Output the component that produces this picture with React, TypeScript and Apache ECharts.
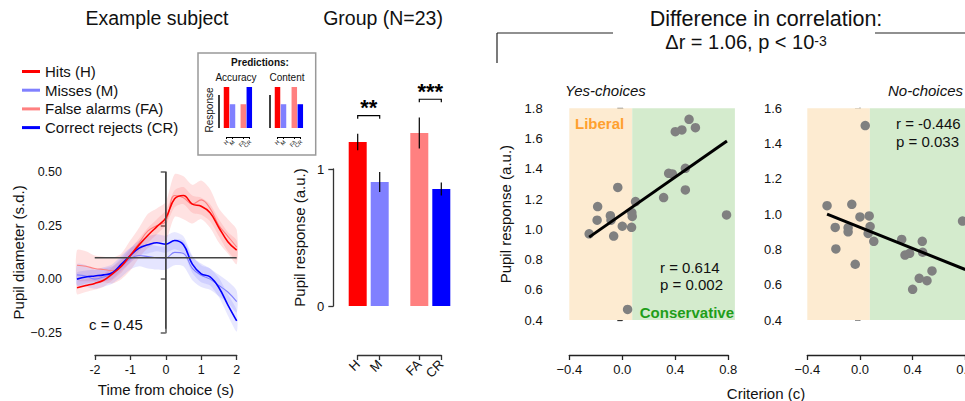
import React, { useEffect, useRef } from 'react';
import * as echarts from 'echarts';

const FONT = '"Liberation Sans", Arial, Helvetica, sans-serif';

// ---------- Example subject: pupil time course ----------
const tcTime = [-2.5, -2.25, -2, -1.75, -1.5, -1.25, -1, -0.75, -0.5, -0.25, 0, 0.25, 0.5, 0.75, 1, 1.25, 1.5, 1.75, 2];
const hitsMean = [-0.04, -0.03, -0.02, -0.005, 0.025, 0.06, 0.11, 0.16, 0.205, 0.245, 0.285, 0.375, 0.39, 0.35, 0.34, 0.31, 0.24, 0.175, 0.135];
const faMean = [0.065, 0.06, 0.05, 0.045, 0.04, 0.06, 0.11, 0.17, 0.225, 0.25, 0.27, 0.39, 0.38, 0.35, 0.37, 0.33, 0.25, 0.2, 0.15];
const crMean = [0.0, 0.01, 0.015, 0.02, 0.03, 0.07, 0.11, 0.145, 0.16, 0.17, 0.163, 0.18, 0.16, 0.07, 0.025, 0.01, -0.04, -0.12, -0.195];
const missMean = [0.02, 0.015, 0.0, 0.01, 0.025, 0.06, 0.095, 0.11, 0.105, 0.1, 0.098, 0.125, 0.12, 0.05, 0.018, 0.0, -0.03, -0.06, -0.105];
const hitsSem = [0.03, 0.03, 0.03, 0.03, 0.03, 0.03, 0.03, 0.03, 0.035, 0.035, 0.035, 0.04, 0.04, 0.04, 0.04, 0.04, 0.04, 0.045, 0.045];
const faSem = [0.07, 0.07, 0.06, 0.06, 0.06, 0.06, 0.07, 0.07, 0.08, 0.08, 0.09, 0.1, 0.1, 0.09, 0.09, 0.09, 0.08, 0.08, 0.08];
const crSem = [0.03, 0.03, 0.03, 0.03, 0.03, 0.03, 0.035, 0.035, 0.04, 0.04, 0.04, 0.04, 0.04, 0.04, 0.04, 0.04, 0.045, 0.05, 0.05];
const missSem = [0.05, 0.05, 0.045, 0.045, 0.045, 0.05, 0.05, 0.05, 0.055, 0.055, 0.055, 0.06, 0.06, 0.055, 0.055, 0.05, 0.05, 0.05, 0.05];
const refLevel = 0.1;
const refSpanX = [-2, 2];
const choiceSpanY = [-0.232, 0.5];

// ---------- Group bars ----------
const barLabels = ['H', 'M', 'FA', 'CR'];
const barPos = [0, 1, 2.8, 3.8];
const barMean = [1.197, 0.905, 1.263, 0.854];
const barErr = [0.06, 0.073, 0.113, 0.047];
const barColors = ['#ff0000', '#8080ff', '#ff8080', '#0000ff'];
const sigBrackets = [[0, 1, 1.389], [2.8, 3.8, 1.509]];
const sigStars = ['**', '***'];

// ---------- Predictions inset ----------
const accuracyPred = [1, 0.58, 0.58, 1];
const contentPred = [1, 0.58, 1, 0.58];

// ---------- Correlation scatter ----------
const criterionSplit = 0.075;
const yesC = [-0.25, -0.186, -0.19, -0.09, -0.085, -0.065, -0.034, 0.0, 0.07, 0.075, 0.072, 0.1, 0.04, 0.312, 0.35, 0.378, 0.4, 0.45, 0.504, 0.552, 0.476, 0.476, 0.787];
const yesPupil = [0.97, 1.15, 1.06, 1.09, 1.06, 0.955, 1.277, 1.02, 1.013, 1.085, 1.11, 1.183, 0.47, 1.21, 1.37, 1.366, 1.645, 1.657, 1.727, 1.672, 1.403, 1.26, 1.095];
const yesFit = [[-0.25, 0.948], [0.79, 1.584]];
const noC = [-0.25, -0.188, -0.183, -0.09, -0.09, -0.062, -0.036, 0.0, 0.04, 0.07, 0.077, 0.062, 0.105, 0.317, 0.342, 0.377, 0.473, 0.476, 0.45, 0.4, 0.509, 0.547, 0.779];
const noPupil = [1.048, 0.925, 0.803, 0.923, 0.9, 1.056, 0.716, 0.984, 1.502, 0.99, 0.93, 0.891, 0.846, 0.857, 0.768, 0.778, 0.846, 0.784, 0.636, 0.574, 0.623, 0.678, 0.961];
const noFit = [[-0.25, 1.0], [0.8, 0.686]];

const ORANGE_BG = '#fdebd1';
const GREEN_BG = '#d4ebcd';

const minus = (s: string) => s.replace('-', '\u2212');
const fmt = (d: number) => (v: number) => (Math.abs(v) < 1e-9 ? (0).toFixed(d) : minus(v.toFixed(d)));

function txt(text: string, x: number, y: number, o: any = {}) {
  return {
    type: 'text',
    x,
    y,
    z: 100,
    rotation: o.rot || 0,
    style: {
      text,
      fill: o.color || '#111',
      fontSize: o.size || 15,
      fontFamily: FONT,
      fontWeight: o.weight || 'normal',
      fontStyle: o.italic ? 'italic' : 'normal',
      align: o.align || 'left',
      textAlign: o.align || 'left',
      verticalAlign: 'middle',
      textVerticalAlign: 'middle',
      rich: o.rich,
    },
  };
}
function seg(x1: number, y1: number, x2: number, y2: number, color = '#222', w = 1.2) {
  return { type: 'line', z: 100, shape: { x1, y1, x2, y2 }, style: { stroke: color, lineWidth: w } };
}

const axisStyle = (color: string, w = 1.3) => ({
  axisLine: { show: true, lineStyle: { color, width: w } },
  axisTick: { show: true, length: 5, lineStyle: { color, width: w } },
  splitLine: { show: false },
});

function hiddenAxis(gridIndex: number, min: number, max: number) {
  return { type: 'value', gridIndex, min, max, show: false, splitLine: { show: false } };
}

// inset layout (pixels)
const INSET_X0 = [226.5, 277.5];
const INSET_UNIT = 6;

function buildOption() {
  const grids = [
    { left: 77, top: 172, width: 159.7, height: 160.7 }, // 0 time course data
    { left: 95, top: 300, width: 141.7, height: 55 }, // 1 time course x axis
    { left: 346.7, top: 86.8, width: 105.6, height: 219.2 }, // 2 bars data
    { left: 333.3, top: 169, width: 20, height: 137 }, // 3 bars y axis
    { left: 357.7, top: 300, width: 83.6, height: 55 }, // 4 bars x axis
    { left: 569.3, top: 108.3, width: 165.6, height: 211.7 }, // 5 yes data
    { left: 569.3, top: 300, width: 159, height: 55 }, // 6 yes x axis
    { left: 807.3, top: 108.3, width: 164.6, height: 211.7 }, // 7 no data
    { left: INSET_X0[0] - 3, top: 87, width: 28.8, height: 41 }, // 8 accuracy inset
    { left: INSET_X0[1] - 3, top: 87, width: 28.8, height: 41 }, // 9 content inset
    { left: INSET_X0[0], top: 120, width: 3.8 * INSET_UNIT, height: 17 }, // 10 accuracy inset axis
    { left: INSET_X0[1], top: 120, width: 3.8 * INSET_UNIT, height: 17 }, // 11 content inset axis
  ].map((g) => ({ ...g, containLabel: false, outerBoundsMode: 'none' }));

  const labelText = { color: '#111', fontFamily: FONT };
  const barLabelMap: Record<string, string> = {};
  barPos.forEach((p, i) => (barLabelMap[p.toFixed(2)] = barLabels[i]));
  const catFormatter = (v: number) => barLabelMap[v.toFixed(2)] ?? '';

  const insetAxis = (gridIndex: number) => ({
    type: 'value', gridIndex, min: 0, max: 3.8, z: 5,
    axisLine: { show: true, lineStyle: { color: '#000', width: 1 } },
    axisTick: { show: true, length: 2, lineStyle: { color: '#000', width: 1 }, customValues: barPos },
    axisLabel: { show: false },
    splitLine: { show: false },
  });

  const xAxis: any[] = [
    hiddenAxis(0, -2.5, 2),
    {
      type: 'value', gridIndex: 1, min: -2, max: 2, interval: 1,
      ...axisStyle('#333'),
      axisLabel: { ...labelText, fontSize: 12.5, margin: 8 },
      name: 'Time from choice (s)', nameLocation: 'middle', nameGap: 27,
      nameTextStyle: { ...labelText, fontSize: 15 },
    },
    hiddenAxis(2, -0.5, 4.3),
    hiddenAxis(3, 0, 1),
    {
      type: 'value', gridIndex: 4, min: 0, max: 3.8,
      ...axisStyle('#333'),
      axisTick: { show: true, length: 5, lineStyle: { color: '#333', width: 1.3 }, customValues: barPos },
      axisLabel: {
        ...labelText, fontSize: 13, rotate: 45, margin: 7, customValues: barPos, formatter: catFormatter,
        showMinLabel: true, showMaxLabel: true, hideOverlap: false,
      },
    },
    hiddenAxis(5, -0.4, 0.85),
    {
      type: 'value', gridIndex: 6, min: -0.4, max: 0.8, interval: 0.4,
      ...axisStyle('#222'),
      axisLabel: { ...labelText, fontSize: 13, margin: 8, formatter: fmt(1) },
    },
    {
      type: 'value', gridIndex: 7, min: -0.4, max: 0.85, interval: 0.4, offset: 35,
      ...axisStyle('#222'),
      axisLabel: { ...labelText, fontSize: 13, margin: 8, formatter: fmt(1), showMaxLabel: false },
    },
    hiddenAxis(8, -0.5, 4.3),
    hiddenAxis(9, -0.5, 4.3),
    insetAxis(10),
    insetAxis(11),
  ];

  const yAxis: any[] = [
    {
      type: 'value', gridIndex: 0, min: -0.25, max: 0.5, interval: 0.25, offset: 7,
      ...axisStyle('#666', 1.6),
      axisLabel: { ...labelText, fontSize: 12.5, margin: 8, formatter: fmt(2) },
      name: 'Pupil diameter (s.d.)', nameLocation: 'middle', nameGap: 37,
      nameTextStyle: { ...labelText, fontSize: 15 },
    },
    hiddenAxis(1, 0, 1),
    hiddenAxis(2, 0, 1.6),
    {
      type: 'value', gridIndex: 3, min: 0, max: 1, interval: 1,
      ...axisStyle('#333'),
      axisLabel: { ...labelText, fontSize: 13, margin: 9 },
      name: 'Pupil response (a.u.)', nameLocation: 'middle', nameGap: 26,
      nameTextStyle: { ...labelText, fontSize: 15 },
    },
    hiddenAxis(4, 0, 1),
    {
      type: 'value', gridIndex: 5, min: 0.4, max: 1.8, interval: 0.2, offset: 18.6,
      ...axisStyle('#333'),
      axisLabel: { ...labelText, fontSize: 13, margin: 8, formatter: fmt(1) },
      name: 'Pupil response (a.u.)', nameLocation: 'middle', nameGap: 38,
      nameTextStyle: { ...labelText, fontSize: 15 },
    },
    hiddenAxis(6, 0, 1),
    {
      type: 'value', gridIndex: 7, min: 0.4, max: 1.6, interval: 0.2, offset: 17.3,
      ...axisStyle('#777', 1.6),
      axisLabel: { ...labelText, fontSize: 13, margin: 8, formatter: fmt(1) },
    },
    hiddenAxis(8, 0, 1),
    hiddenAxis(9, 0, 1),
    hiddenAxis(10, 0, 1),
    hiddenAxis(11, 0, 1),
  ];

  const series: any[] = [];

  // shaded error bands (drawn as one polygon per condition)
  const band = (key: string, mean: number[], sem: number[], color: string) => {
    series.push({
      type: 'custom', name: key, xAxisIndex: 0, yAxisIndex: 0, silent: true, z: 1,
      encode: { x: 0, y: [1, 2] },
      data: tcTime.map((t, i) => [t, mean[i] - sem[i], mean[i] + sem[i]]),
      renderItem: (params: any, api: any) => {
        if (params.dataIndex !== 0) return null;
        const upper = tcTime.map((t, i) => api.coord([t, mean[i] + sem[i]]));
        const lower = tcTime.map((t, i) => api.coord([t, mean[i] - sem[i]])).reverse();
        return {
          type: 'polygon',
          shape: { points: upper.concat(lower), smooth: 0.25 },
          style: { fill: color, stroke: 'none' },
        };
      },
    });
  };
  band('faBand', faMean, faSem, 'rgba(255,110,110,0.2)');
  band('hBand', hitsMean, hitsSem, 'rgba(255,0,0,0.1)');
  band('mBand', missMean, missSem, 'rgba(110,110,255,0.18)');
  band('crBand', crMean, crSem, 'rgba(0,0,255,0.09)');

  const tcLine = (name: string, mean: number[], color: string, w: number) => ({
    type: 'line', name, xAxisIndex: 0, yAxisIndex: 0,
    data: tcTime.map((t, i) => [t, mean[i]]),
    symbol: 'none', smooth: 0.4, lineStyle: { color, width: w }, itemStyle: { color }, z: 5,
  });
  series.push(tcLine('Misses (M)', missMean, '#8080ff', 1.1));
  series.push(tcLine('False alarms (FA)', faMean, '#ff8080', 1.1));
  series.push(tcLine('Correct rejects (CR)', crMean, '#0000ff', 1.6));
  series.push(tcLine('Hits (H)', hitsMean, '#ff0000', 1.6));

  series.push({
    type: 'line', name: 'ref_h', xAxisIndex: 0, yAxisIndex: 0,
    data: refSpanX.map((x) => [x, refLevel]), symbol: 'none', silent: true,
    lineStyle: { color: '#444', width: 1.4 }, z: 6,
  });
  series.push({
    type: 'line', name: 'ref_v', xAxisIndex: 0, yAxisIndex: 0,
    data: choiceSpanY.map((y) => [0, y]), symbol: 'none', silent: true,
    lineStyle: { color: '#444', width: 1.4 }, z: 6,
  });

  // group bars
  series.push({
    type: 'bar', name: 'group', xAxisIndex: 2, yAxisIndex: 2, barWidth: 18, clip: false,
    data: barPos.map((p, i) => ({ value: [p, barMean[i]], itemStyle: { color: barColors[i] } })),
    z: 2,
  });
  series.push({
    type: 'custom', name: 'errors', xAxisIndex: 2, yAxisIndex: 2, clip: false, z: 3,
    data: barPos.map((p, i) => [p, barMean[i], barErr[i]]),
    renderItem: (params: any, api: any) => {
      const x = api.value(0), m = api.value(1), e = api.value(2);
      const a = api.coord([x, m + e]);
      const b = api.coord([x, m - e]);
      return { type: 'line', shape: { x1: a[0], y1: a[1], x2: b[0], y2: b[1] }, style: { stroke: '#000', lineWidth: 1.2 } };
    },
  });
  series.push({
    type: 'custom', name: 'sig', xAxisIndex: 2, yAxisIndex: 2, clip: false, z: 3,
    data: sigBrackets,
    renderItem: (params: any, api: any) => {
      const a = api.coord([api.value(0), api.value(2)]);
      const b = api.coord([api.value(1), api.value(2)]);
      return {
        type: 'group',
        children: [
          {
            type: 'polyline',
            shape: { points: [[a[0], a[1] + 3], [a[0], a[1]], [b[0], b[1]], [b[0], b[1] + 3]] },
            style: { stroke: '#000', lineWidth: 1.2, fill: 'none' },
          },
          {
            type: 'text',
            style: {
              text: sigStars[params.dataIndex], x: (a[0] + b[0]) / 2, y: a[1] - 8,
              align: 'center', verticalAlign: 'middle', textAlign: 'center', textVerticalAlign: 'middle',
              fontSize: 22, fontWeight: 'bold', fontFamily: FONT, fill: '#000',
            },
          },
        ],
      };
    },
  });

  // predictions inset
  series.push({
    type: 'bar', name: 'acc', xAxisIndex: 8, yAxisIndex: 8, barWidth: 5.5, clip: false, z: 3,
    data: barPos.map((p, i) => ({ value: [p, accuracyPred[i]], itemStyle: { color: barColors[i] } })),
  });
  series.push({
    type: 'bar', name: 'cont', xAxisIndex: 9, yAxisIndex: 9, barWidth: 5.5, clip: false, z: 3,
    data: barPos.map((p, i) => ({ value: [p, contentPred[i]], itemStyle: { color: barColors[i] } })),
  });

  // scatter panels
  const bg = (xi: number, yMin: number, yMax: number) => ({
    type: 'line', name: 'bg' + xi, xAxisIndex: xi, yAxisIndex: xi, data: [], silent: true, z: 0,
    markArea: {
      silent: true,
      data: [
        [{ xAxis: -0.4, yAxis: yMin, itemStyle: { color: ORANGE_BG } }, { xAxis: criterionSplit, yAxis: yMax }],
        [{ xAxis: criterionSplit, yAxis: yMin, itemStyle: { color: GREEN_BG } }, { xAxis: 0.85, yAxis: yMax }],
      ],
    },
  });
  series.push(bg(5, 0.4, 1.8));
  series.push(bg(7, 0.4, 1.6));
  series.push({
    type: 'scatter', name: 'yes', xAxisIndex: 5, yAxisIndex: 5, symbolSize: 9.5,
    data: yesC.map((c, i) => [c, yesPupil[i]]), itemStyle: { color: '#808080', opacity: 1 }, z: 3,
  });
  series.push({
    type: 'line', name: 'yesFit', xAxisIndex: 5, yAxisIndex: 5, data: yesFit, symbol: 'none',
    lineStyle: { color: '#000', width: 3 }, z: 4, silent: true,
  });
  series.push({
    type: 'scatter', name: 'no', xAxisIndex: 7, yAxisIndex: 7, symbolSize: 9.5,
    data: noC.map((c, i) => [c, noPupil[i]]), itemStyle: { color: '#808080', opacity: 1 }, z: 3,
  });
  series.push({
    type: 'line', name: 'noFit', xAxisIndex: 7, yAxisIndex: 7, data: noFit, symbol: 'none',
    lineStyle: { color: '#000', width: 3 }, z: 4, silent: true,
  });

  const insetLabels: any[] = [];
  INSET_X0.forEach((x0) => {
    barPos.forEach((p, i) => {
      insetLabels.push(txt(barLabels[i], x0 + p * INSET_UNIT + 1, 141, { size: 5.5, align: 'right', rot: Math.PI / 4 }));
    });
  });

  const graphic: any[] = [
    txt('Example subject', 157, 18, { size: 19.5, align: 'center' }),
    txt('Group (N=23)', 383, 18, { size: 19.5, align: 'center' }),
    txt('Difference in correlation:', 766, 19, { size: 21.5, align: 'center' }),
    txt('{b|\u0394r = 1.06, p < 10}{s|-3}', 746, 43, {
      size: 20, align: 'center',
      rich: {
        b: { fontSize: 20, fontFamily: FONT, fill: '#111', lineHeight: 18, verticalAlign: 'bottom' },
        s: { fontSize: 14, fontFamily: FONT, fill: '#111', lineHeight: 12, verticalAlign: 'top' },
      },
    }),
    seg(497, 33, 613, 33, '#222', 1.2),
    seg(497, 33, 497, 63, '#222', 1.2),
    seg(875, 33, 965, 33, '#222', 1.2),
    txt('c = 0.45', 89, 324, { size: 15 }),
    txt('Yes-choices', 565, 90, { size: 15, italic: true }),
    txt('No-choices', 963, 90, { size: 15, italic: true, align: 'right' }),
    txt('Liberal', 575, 123, { size: 15, weight: 'bold', color: '#ffa02e' }),
    txt('Conservative', 734, 312, { size: 15, weight: 'bold', color: '#1f9e1a', align: 'right' }),
    txt('r = 0.614', 660, 267, { size: 15 }),
    txt('p = 0.002', 660, 284, { size: 15 }),
    txt('r = -0.446', 896, 123, { size: 15 }),
    txt('p = 0.033', 896, 141, { size: 15 }),
    txt('Criterion (c)', 766, 393, { size: 15, align: 'center' }),
    // predictions inset frame
    { type: 'rect', z: 1, shape: { x: 198, y: 53, width: 117.7, height: 102 }, style: { fill: 'none', stroke: '#999', lineWidth: 1.5 } },
    txt('Predictions:', 260, 62, { size: 10, weight: 'bold', align: 'center' }),
    txt('Accuracy', 236, 77, { size: 10, align: 'center' }),
    txt('Content', 287, 77, { size: 10, align: 'center' }),
    txt('Response', 209, 110, { size: 10, align: 'center', rot: Math.PI / 2 }),
    seg(219, 95, 219, 128, '#000', 1.5),
    seg(270, 95, 270, 128, '#000', 1.5),
    ...insetLabels,
  ];

  return {
    animation: false,
    backgroundColor: '#fff',
    textStyle: { fontFamily: FONT },
    grid: grids,
    xAxis,
    yAxis,
    legend: {
      show: true, orient: 'vertical', left: 17, top: 59, itemWidth: 18, itemHeight: 3, itemGap: 3.7,
      icon: 'rect', selectedMode: false,
      data: ['Hits (H)', 'Misses (M)', 'False alarms (FA)', 'Correct rejects (CR)'],
      textStyle: { fontSize: 15, color: '#111', lineHeight: 15, fontFamily: FONT },
    },
    series,
    graphic,
  };
}

export default function App() {
  const ref = useRef<HTMLDivElement>(null);
  useEffect(() => {
    const chart = echarts.init(ref.current!, null, { renderer: 'svg' });
    chart.setOption(buildOption() as any);
    return () => chart.dispose();
  }, []);
  return (
    <div
      ref={ref}
      style={{ position: 'absolute', left: 0, top: 0, width: 965, height: 401, background: '#fff' }}
    />
  );
}
